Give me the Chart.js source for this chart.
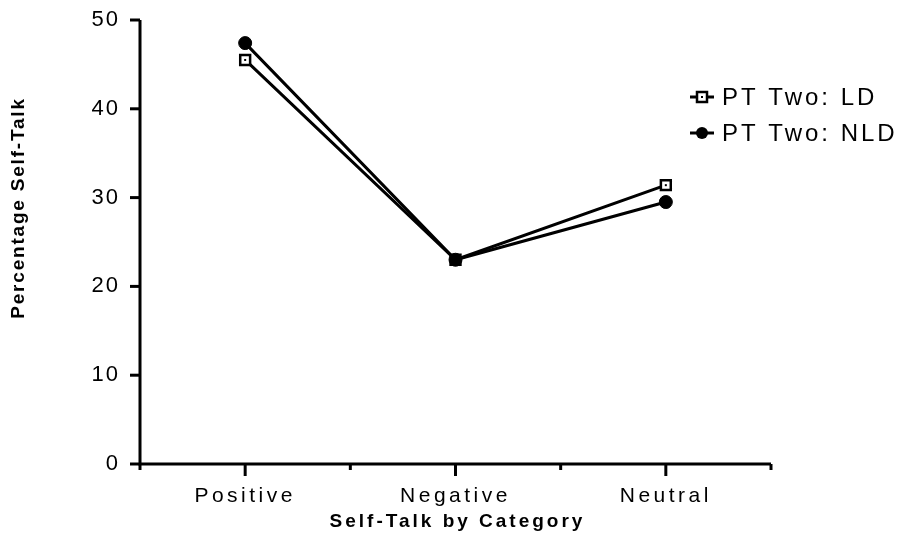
<!DOCTYPE html>
<html><head><meta charset="utf-8">
<script src="https://cdn.jsdelivr.net/npm/chart.js@4"></script>
<style>html,body{margin:0;padding:0;background:#fff}#wrap{width:911px;height:559px}</style>
</head><body><div id="wrap"><canvas id="c"></canvas></div>
<script>
const categories = ["Positive", "Negative", "Neutral"];
const seriesNames = ["PT Two: LD", "PT Two: NLD"];
const ldValues = [45.5, 23, 31.4];
const nldValues = [47.4, 23, 29.5];
const yTicks = [0, 10, 20, 30, 40, 50];
const xTitle = "Self-Talk by Category";
const yTitle = "Percentage Self-Talk";

// Category positions at odd slots with blank slots in between
const labels = [""];
categories.forEach(c => { labels.push(c); labels.push(""); });
function spread(vals) {
  const out = [null];
  vals.forEach(v => { out.push(v); out.push(null); });
  return out;
}
const FONT = "'Liberation Sans', Arial, Helvetica, sans-serif";

const spacingPlugin = {
  id: 'spacingPlugin',
  beforeDraw(chart) {
    const sp = { x: '3.5px', y: '2px' };
    Object.keys(sp).forEach(k => {
      const s = chart.scales[k];
      if (s && !s._wrapped) {
        const orig = s.drawLabels.bind(s);
        s.drawLabels = function (area) {
          const ctx = this.ctx;
          const prev = ctx.letterSpacing;
          ctx.letterSpacing = sp[k];
          orig(area);
          ctx.letterSpacing = prev || '0px';
        };
        s._wrapped = true;
      }
    });
  }
};

const axisPlugin = {
  id: 'axisPlugin',
  afterDraw(chart) {
    const ctx = chart.ctx, ca = chart.chartArea;
    const xs = chart.scales.x, ys = chart.scales.y;
    ctx.save();
    ctx.strokeStyle = '#000';
    ctx.lineWidth = 3;
    ctx.beginPath();
    ctx.moveTo(ca.left, ca.top); ctx.lineTo(ca.left, ca.bottom); ctx.lineTo(ca.right, ca.bottom);
    ctx.stroke();
    yTicks.forEach(v => {
      const y = ys.getPixelForValue(v);
      ctx.beginPath(); ctx.moveTo(ca.left - 10, y); ctx.lineTo(ca.left, y); ctx.stroke();
    });
    labels.forEach((l, i) => {
      const x = xs.getPixelForValue(i);
      const len = l ? 12 : 6;
      ctx.beginPath(); ctx.moveTo(x, ca.bottom); ctx.lineTo(x, ca.bottom + len); ctx.stroke();
    });
    // axis titles
    ctx.fillStyle = '#000';
    ctx.textAlign = 'center';
    ctx.textBaseline = 'middle';
    ctx.font = 'bold 19px ' + FONT;
    ctx.letterSpacing = '3px';
    ctx.fillText(xTitle, (ca.left + ca.right) / 2 + 2, 522);
    ctx.save();
    ctx.translate(19, 208);
    ctx.rotate(-Math.PI / 2);
    ctx.font = 'bold 19px ' + FONT;
    ctx.letterSpacing = '1.8px';
    ctx.fillText(yTitle, 0, 0);
    ctx.restore();
    // legend
    const items = chart.data.datasets;
    ctx.font = '24px ' + FONT;
    ctx.letterSpacing = '3px';
    ctx.textAlign = 'left';
    ctx.textBaseline = 'middle';
    items.forEach((ds, i) => {
      const y = 97 + i * 36;
      const cx = 702;
      ctx.lineWidth = 3;
      ctx.beginPath(); ctx.moveTo(cx - 12, y); ctx.lineTo(cx + 12, y); ctx.stroke();
      if (ds.pointStyle === 'rect') {
        ctx.fillStyle = '#fff';
        ctx.fillRect(cx - 5, y - 5, 10, 10);
        ctx.lineWidth = 2.5;
        ctx.strokeRect(cx - 5, y - 5, 10, 10);
        ctx.fillStyle = '#000';
        ctx.fillRect(cx - 1, y - 1, 2, 2);
      } else {
        ctx.fillStyle = '#000';
        ctx.beginPath(); ctx.arc(cx, y, 6, 0, Math.PI * 2); ctx.fill();
      }
      ctx.fillStyle = '#000';
      ctx.fillText(ds.label, 722, y + 1);
    });
    ctx.restore();
  }
};

const dotPlugin = {
  id: 'dotPlugin',
  afterDatasetsDraw(chart) {
    const ctx = chart.ctx;
    const meta = chart.getDatasetMeta(0);
    ctx.save();
    ctx.fillStyle = '#000';
    meta.data.forEach((p, i) => {
      if (chart.data.datasets[0].data[i] == null) return;
      ctx.fillRect(p.x - 1, p.y - 1, 2, 2);
    });
    ctx.restore();
  }
};

new Chart(document.getElementById('c'), {
  type: 'line',
  data: {
    labels: labels,
    datasets: [
      {
        label: seriesNames[0], data: spread(ldValues), spanGaps: true,
        borderColor: '#000', borderWidth: 3, pointStyle: 'rect',
        pointRadius: 7, pointBackgroundColor: '#fff', pointBorderColor: '#000', pointBorderWidth: 2.5,
        order: 2
      },
      {
        label: seriesNames[1], data: spread(nldValues), spanGaps: true,
        borderColor: '#000', borderWidth: 3, pointStyle: 'circle',
        pointRadius: 6.5, pointBackgroundColor: '#000', pointBorderColor: '#000', pointBorderWidth: 1,
        order: 1
      }
    ]
  },
  options: {
    responsive: true, maintainAspectRatio: false, animation: false,
    devicePixelRatio: 1,
    layout: { padding: { top: 20, right: 140, left: 0, bottom: 0 } },
    plugins: { legend: { display: false }, tooltip: { enabled: false } },
    scales: {
      x: {
        type: 'category', offset: false,
        grid: { display: false, drawTicks: false },
        border: { display: false },
        ticks: { color: '#000', font: { family: FONT, size: 21 }, padding: 20, autoSkip: false, maxRotation: 0 },
        title: { display: false },
        afterFit: s => { s.height = 95; s.paddingLeft = 0; s.paddingRight = 0; }
      },
      y: {
        min: 0, max: 50,
        grid: { display: false, drawTicks: false },
        border: { display: false },
        ticks: { stepSize: 10, color: '#000', font: { family: FONT, size: 22 }, padding: 20 },
        title: { display: false },
        afterFit: s => { s.width = 140; s.paddingTop = 0; s.paddingBottom = 0; }
      }
    }
  },
  plugins: [spacingPlugin, axisPlugin, dotPlugin]
});
</script></body></html>
